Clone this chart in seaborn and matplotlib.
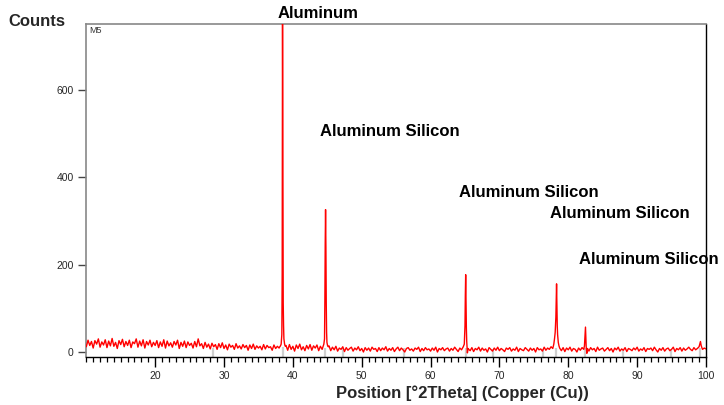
import numpy as np
import pandas as pd
import matplotlib
matplotlib.use("Agg")
import matplotlib.pyplot as plt
from matplotlib.ticker import MultipleLocator
import seaborn as sns

# ---------------- data ----------------
SCAN_STEP = 0.25  # degrees 2theta between baseline samples

# baseline segments: (start angle, counts)
base_a_start = 10.0
base_a = [12, 27, 15, 24, 9, 26, 18, 30, 11, 23,
          16, 28, 10, 25, 14, 31, 13, 22, 8, 26,
          17, 29, 12, 24, 15, 27, 10, 23, 19, 30,
          11, 25, 14, 28, 9, 24, 16, 27, 12, 22,
          15, 26, 10, 23, 13, 28, 9, 25, 14, 21,
          11, 24, 16, 27, 8, 22, 13, 25, 10, 23,
          15, 20, 9, 24, 12, 30, 14, 19, 8, 22,
          11, 18, 7, 20, 12, 17, 6, 19, 10, 21,
          8, 16, 5, 18, 11, 15, 6, 19, 9, 14,
          7, 17, 10, 15, 4, 16, 8, 18, 6, 14,
          9, 13, 5, 17, 7, 15, 10, 12, 4, 16,
          8, 13, 9]
base_b_start = 39.0
base_b = [15, 4, 17, 6, 13, 2, 16, 8, 18, 5, 12, 3, 15, 7, 17, 4, 14, 9, 16, 3,
          13, 6, 18]
base_c_start = 45.25
base_c = [14, 3, 11, 5, 13, 2, 9, 6, 12, 1,
          10, 4, 8, 11, 2, 9, 5, 12, 3, 8,
          0, 10, 4, 9, 2, 11, 6, 8, 1, 10,
          3, 9, 5, 12, 2, 8, 4, 10, 1, 7,
          11, 3, 9, 5, 0, 8, 10, 4, 7, 2,
          9, 6, 11, 1, 8, 3, 10, 5, 7, 2,
          9, 4, 11, 0, 8, 5, 10, 3, 7, 9,
          2, 8, 4, 11, 6, 1, 9, 5, 12]
base_d_start = 65.75
base_d = [3, 10, 1, 8, 5, 11, 2, 9, 4, 7,
          0, 10, 6, 2, 9, 4, 11, 3, 8, 5,
          1, 9, 6, 10, 2, 7, 4, 11, 1, 8,
          5, 3, 10, 6, 2, 9, 4, 8, 0, 10,
          5, 7, 2, 11, 4, 9, 6, 12, 8]
base_e_start = 79.0
base_e = [3, 10, 1, 9, 5, 11, 2, 8, 6, 0, 9, 4, 10, 6]
base_f_start = 83.0
base_f = [2, 10, 5, 8, 1, 11, 4, 7, 9, 2,
          6, 10, 3, 8, 0, 9, 5, 11, 2, 7,
          4, 10, 1, 8, 6, 3, 9, 5, 11, 2,
          7, 4, 10, 1, 8, 6, 9, 3, 11, 5,
          0, 8, 4, 10, 2, 7, 9, 3, 6, 11,
          1, 8, 5, 10, 2, 9, 4, 7, 11, 6,
          3, 10, 5, 8, 12]

# diffraction peaks: explicit (2theta, counts) samples
peak1_tt = [38.1, 38.2, 38.3, 38.4, 38.45, 38.5, 38.55, 38.6, 38.65, 38.7, 38.8, 38.9]
peak1_ct = [12, 14, 18, 40, 180, 790, 420, 112, 60, 30, 18, 13]
peak2_tt = [44.6, 44.65, 44.7, 44.75, 44.8, 44.85, 44.9, 44.95, 45.05, 45.15]
peak2_ct = [30, 120, 248, 326, 240, 112, 45, 22, 14, 12]
peak3_tt = [64.9, 65.0, 65.05, 65.1, 65.15, 65.2, 65.25, 65.35, 65.45, 65.55]
peak3_ct = [18, 60, 130, 177, 120, 55, 25, -2, 8, 6]
peak4_tt = [77.9, 78.0, 78.1, 78.2, 78.25, 78.3, 78.35, 78.4, 78.45, 78.55, 78.65, 78.75]
peak4_ct = [18, 30, 45, 80, 120, 156, 110, 60, 40, 22, 14, 9]
peak5_tt = [82.35, 82.45, 82.5, 82.55, 82.6, 82.7, 82.8]
peak5_ct = [14, 40, 57, 35, 12, -3, 8]
peak6_tt = [99.1, 99.2, 99.3, 99.4, 99.5, 99.75, 100.0]
peak6_ct = [18, 24, 15, 10, 6, 9, 7]

# reference-pattern stick positions (light grey marks at the base)
ref_pos = [28.4, 38.5, 44.7, 47.3, 56.1, 65.1, 69.1, 76.4, 78.2, 82.4, 88.0, 94.9, 99.1]
ref_top = [8, 12, 10, 8, 8, 10, 6, 6, 10, 8, 6, 6, 8]

# labels
peak_labels = ["Aluminum", "Aluminum Silicon", "Aluminum Silicon",
               "Aluminum Silicon", "Aluminum Silicon"]
label_x = [43.65, 43.9, 64.1, 77.3, 81.6]
label_y = [774, 506, 366, 318, 211]
label_ha = ["center", "left", "left", "left", "left"]
x_ticks = [20, 30, 40, 50, 60, 70, 80, 90, 100]
y_ticks = [0, 200, 400, 600]

# ---------------- build table ----------------
tt, ct = [], []
for start, vals in [(base_a_start, base_a), (base_b_start, base_b), (base_c_start, base_c),
                    (base_d_start, base_d), (base_e_start, base_e), (base_f_start, base_f)]:
    tt += list(start + SCAN_STEP * np.arange(len(vals)))
    ct += vals
for ptt, pct in [(peak1_tt, peak1_ct), (peak2_tt, peak2_ct), (peak3_tt, peak3_ct),
                 (peak4_tt, peak4_ct), (peak5_tt, peak5_ct), (peak6_tt, peak6_ct)]:
    tt += ptt
    ct += pct
df = pd.DataFrame({"two_theta": tt, "counts": ct}).sort_values("two_theta")
df = df.drop_duplicates("two_theta")

# ---------------- plot ----------------
sns.set_style("white")
plt.rcParams["font.family"] = ["Liberation Sans", "DejaVu Sans"]

fig = plt.figure(figsize=(7.24, 4.05), dpi=100)
ax = fig.add_axes([0.1192, 0.1185, 0.8559, 0.8222])

ymin, ymax = -11.5, 751
ax.vlines(ref_pos, ymin, ref_top, color="#cfcfcf", lw=1.6, zorder=1)
sns.lineplot(data=df, x="two_theta", y="counts", ax=ax, color="#ff0000",
             lw=1.0, estimator=None, sort=False, zorder=3)

ax.set_xlim(10, 100)
ax.set_ylim(ymin, ymax)
ax.set_xticks(x_ticks)
ax.set_yticks(y_ticks)
ax.xaxis.set_minor_locator(MultipleLocator(1))
ax.tick_params(axis="x", which="major", direction="out", length=7, width=1,
               color="black", labelsize=7.5, pad=3, bottom=True)
ax.tick_params(axis="x", which="minor", direction="out", length=3.5, width=0.9,
               color="black", bottom=True)
ax.tick_params(axis="y", which="major", direction="out", length=6, width=1,
               color="#444444", labelsize=7.5, pad=3, left=True)
ax.set_xlabel("")
ax.set_ylabel("")

for side in ["left", "top"]:
    ax.spines[side].set_color("#888888")
    ax.spines[side].set_linewidth(1.2)
for side in ["right", "bottom"]:
    ax.spines[side].set_color("black")
    ax.spines[side].set_linewidth(1.0)
ax.spines["top"].set_visible(True)
ax.spines["right"].set_visible(True)

for lab, lx, ly, ha in zip(peak_labels, label_x, label_y, label_ha):
    ax.text(lx, ly, lab, ha=ha, va="center", fontsize=12, fontweight="bold",
            color="black", clip_on=False, zorder=5)

ax.text(0.004, 0.993, "M5", transform=ax.transAxes, ha="left", va="top",
        fontsize=6.5, color="#333333")

fig.text(8 / 724, 1 - 22 / 405, "Counts", ha="left", va="center",
         fontsize=12, fontweight="bold")
fig.text(336 / 724, 1 - 393 / 405, "Position [°2Theta] (Copper (Cu))",
         ha="left", va="center", fontsize=12, fontweight="bold")

fig.savefig("out.png", dpi=100)
